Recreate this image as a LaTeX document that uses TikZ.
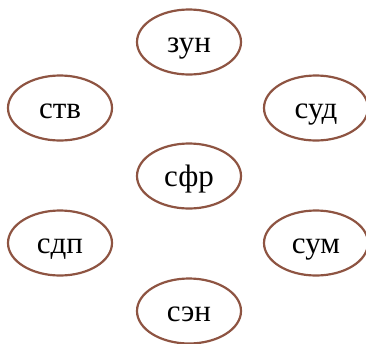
\documentclass[tikz,border=0pt]{standalone}
\usepackage{fontspec}
\setmainfont{Liberation Serif}
\usetikzlibrary{shapes.geometric}
\definecolor{rim}{RGB}{142,84,66}
\tikzset{
  bubble/.style={ellipse, draw=rim, line width=2.2pt, inner sep=0pt,
    minimum width=104pt, minimum height=65pt,
    font=\fontsize{31}{33}\selectfont, text height=21pt, text depth=0pt}
}
\begin{document}
\begin{tikzpicture}[x=1pt, y=-1pt]
  \useasboundingbox (0,0) rectangle (366,343);
  \node[bubble] (zun) at (189,42)  {зун};
  \node[bubble] (stv) at (60,108)  {ств};
  \node[bubble] (sud) at (316,108) {суд};
  \node[bubble] (sfr) at (189,176) {сфр};
  \node[bubble] (sdp) at (60,243)  {сдп};
  \node[bubble] (sum) at (316,243) {сум};
  \node[bubble] (sen) at (189,311) {сэн};
\end{tikzpicture}
\end{document}
